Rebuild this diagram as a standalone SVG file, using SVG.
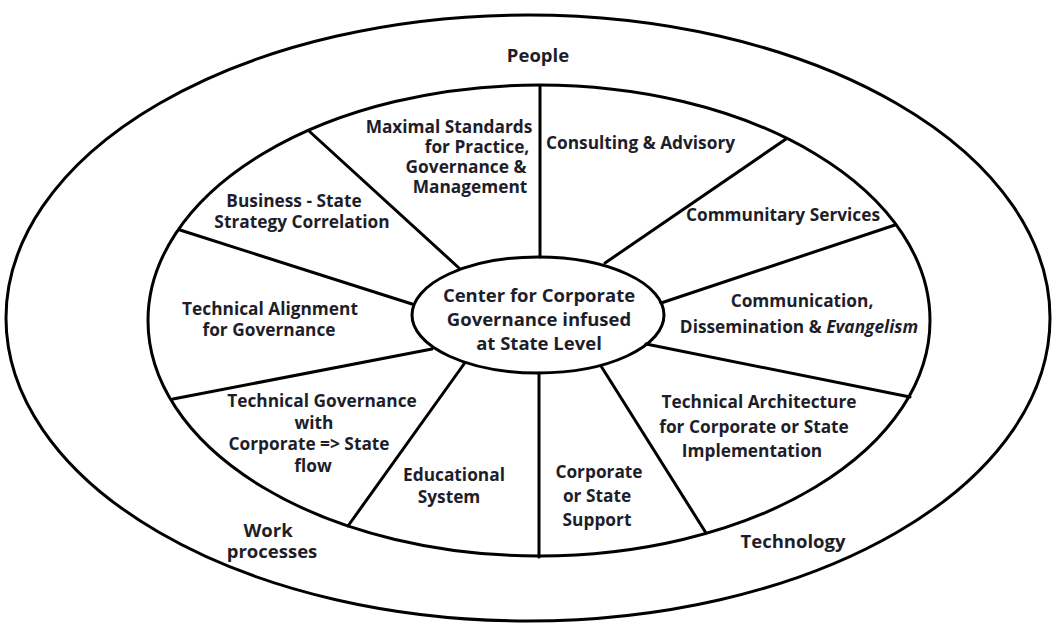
<svg xmlns="http://www.w3.org/2000/svg" width="1056" height="623" viewBox="0 0 1056 623">
<style>
.ring{fill:none;stroke:#000;stroke-width:3}
.div{stroke:#000;stroke-width:3;stroke-linecap:round}
text{font-family:"Open Sans","Liberation Sans",sans-serif;font-weight:700;font-size:17.3px;fill:#1e1e2a;text-anchor:middle}
.c{font-size:18.5px}
.o{font-size:18.5px}
.s{text-anchor:start}
</style>
<rect width="1056" height="623" fill="#fff"/>
<g id="rings">
<ellipse class="ring" cx="528" cy="318" rx="522" ry="303"/>
<ellipse class="ring" cx="539" cy="320.5" rx="391" ry="235.5"/>
</g>
<g id="connectors">
<line class="div" x1="540" y1="86" x2="540" y2="257"/>
<line class="div" x1="309" y1="131" x2="459" y2="268"/>
<line class="div" x1="180" y1="230" x2="412" y2="304"/>
<line class="div" x1="173" y1="399" x2="432" y2="349"/>
<line class="div" x1="464" y1="364" x2="348" y2="526"/>
<line class="div" x1="539" y1="373" x2="539" y2="557"/>
<line class="div" x1="601" y1="366" x2="706" y2="533"/>
<line class="div" x1="646" y1="344" x2="910" y2="397"/>
<line class="div" x1="661" y1="303" x2="895" y2="225"/>
<line class="div" x1="605" y1="263" x2="786" y2="139"/>
</g>
<g id="center">
<ellipse class="ring" cx="538" cy="315" rx="126" ry="58" fill="#fff"/>
<text class="c" x="539" y="302">Center for Corporate</text>
<text class="c" x="539" y="326">Governance infused</text>
<text class="c" x="539" y="350">at State Level</text>
</g>
<g id="people"><text class="o" x="538" y="62">People</text></g>
<g id="work-processes"><text class="o" x="268" y="537">Work</text><text class="o" x="272" y="558">processes</text></g>
<g id="technology"><text class="o" x="793" y="548">Technology</text></g>
<g id="maximal-standards">
<text x="449" y="133">Maximal Standards</text>
<text x="477" y="153">for Practice,</text>
<text x="466" y="173">Governance &amp;</text>
<text x="470" y="193">Management</text>
</g>
<g id="consulting"><text class="s" x="546" y="149">Consulting &amp; Advisory</text></g>
<g id="communitary"><text x="783" y="221">Communitary Services</text></g>
<g id="communication">
<text x="802" y="307">Communication,</text>
<text x="799" y="333">Dissemination &amp; <tspan font-style="italic">Evangelism</tspan></text>
</g>
<g id="tech-architecture">
<text x="759" y="408">Technical Architecture</text>
<text x="754" y="433">for Corporate or State</text>
<text x="752" y="457">Implementation</text>
</g>
<g id="support">
<text x="599" y="478">Corporate</text>
<text x="597" y="502">or State</text>
<text x="597" y="526">Support</text>
</g>
<g id="educational">
<text x="454" y="481">Educational</text>
<text x="449" y="503">System</text>
</g>
<g id="tech-governance">
<text x="322" y="407">Technical Governance</text>
<text x="314" y="429">with</text>
<text x="309" y="450">Corporate =&gt; State</text>
<text x="313" y="472">flow</text>
</g>
<g id="tech-alignment">
<text x="270" y="315">Technical Alignment</text>
<text x="269" y="336">for Governance</text>
</g>
<g id="business-state">
<text x="294" y="207">Business - State</text>
<text x="302" y="228">Strategy Correlation</text>
</g>
</svg>
